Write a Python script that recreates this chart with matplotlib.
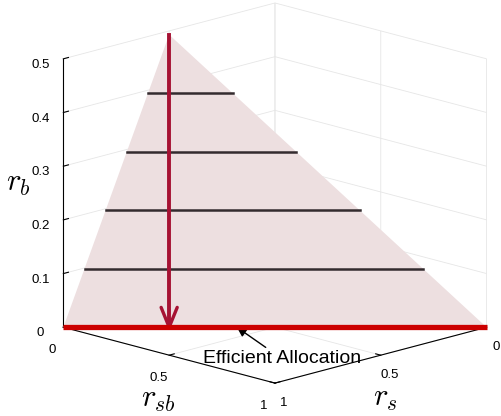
import matplotlib
matplotlib.use("Agg")
import matplotlib.pyplot as plt
from mpl_toolkits.mplot3d.art3d import Poly3DCollection
from mpl_toolkits.mplot3d import proj3d

plt.rcParams['font.family'] = ['Liberation Sans', 'DejaVu Sans']
plt.rcParams['mathtext.fontset'] = 'cm'

# corners of the shaded plane, as (r_sb, r_s, r_b)
corner_left = (0.0, 1.0, 0.0)
corner_right = (1.0, 0.0, 0.0)
apex = (0.25, 0.75, 0.545)
# heights of the four horizontal lines
levels = [0.109, 0.218, 0.327, 0.436]
# where the annotation arrow hits the base line (r_sb)
note_rsb = 0.41
note_text = "Efficient Allocation"

horiz_ticks = [0, 0.5, 1]
horiz_ticklabels = ["0", "0.5", "1"]
rb_ticks = [0, 0.1, 0.2, 0.3, 0.4, 0.5]
rb_ticklabels = ["0", "0.1", "0.2", "0.3", "0.4", "0.5"]


def P(p):
    # (r_sb, r_s, r_b) -> axes (x=r_s, y=r_sb, z=r_b)
    return (p[1], p[0], p[2])


def line3(a, b, **kw):
    pa, pb = P(a), P(b)
    ax.plot([pa[0], pb[0]], [pa[1], pb[1]], [pa[2], pb[2]], **kw)


fig = plt.figure(figsize=(5.02, 4.16), dpi=100)
ax = fig.add_axes([-0.067, -0.071, 1.203, 1.182], projection='3d', proj_type='ortho',
                  computed_zorder=False)
ax.view_init(elev=15.3, azim=45)
ax.set_box_aspect((1, 1, 0.93))

ax.set_xlim(0, 1)
ax.set_ylim(0, 1)
ax.set_zlim(0, 0.5)

# shaded triangle
tri = Poly3DCollection([[P(corner_left), P(corner_right), P(apex)]],
                       facecolor=(0.93, 0.875, 0.88), edgecolor='none', zorder=1)
ax.add_collection3d(tri)

# horizontal lines inside the triangle
for z in levels:
    f = z / apex[2]
    a = [corner_left[i] + (apex[i] - corner_left[i]) * f for i in range(3)]
    b = [corner_right[i] + (apex[i] - corner_right[i]) * f for i in range(3)]
    line3(a, b, color=(0.2, 0.17, 0.18), lw=1.8, zorder=2)

# base line (efficient allocations)
line3(corner_left, corner_right, color=(0.8, 0.0, 0.0), lw=3.8, zorder=4,
      solid_capstyle='butt')

# vertical arrow from apex down to base
arrow_col = (0.65, 0.07, 0.2)
foot = (apex[0], apex[1], 0.0)
line3(apex, foot, color=arrow_col, lw=2.8, zorder=3)
for d in (-0.019, 0.019):
    line3(foot, (apex[0] + d, apex[1] - d, 0.037), color=arrow_col, lw=2.4,
          zorder=3, solid_capstyle='round')

# axes styling
for axis in (ax.xaxis, ax.yaxis, ax.zaxis):
    axis.set_pane_color((1, 1, 1, 0))
    axis.pane.set_edgecolor((0.88, 0.88, 0.88))
    axis._axinfo['grid']['color'] = (0.9, 0.9, 0.9)
    axis._axinfo['grid']['linewidth'] = 0.6
    axis._axinfo['tick']['inward_factor'] = 0.0
    axis._axinfo['tick']['outward_factor'] = 0.3
    axis._axinfo['axisline']['color'] = 'black'
    axis._axinfo['axisline']['linewidth'] = 0.8
    axis.line.set_color('black')
    axis.line.set_linewidth(0.8)

ax.set_xticks(horiz_ticks)
ax.set_xticklabels(horiz_ticklabels)
ax.set_yticks(horiz_ticks)
ax.set_yticklabels(horiz_ticklabels)
ax.set_zticks(rb_ticks)
ax.set_zticklabels(rb_ticklabels)
ax.tick_params(labelsize=9.5, pad=0)
ax.yaxis.set_tick_params(pad=1.5)
ax.zaxis.set_tick_params(pad=2)

# axis labels placed like the original
fig.text(158 / 502, 1 - 399 / 416, r'$r_{sb}$', fontsize=22, ha='center', va='center')
fig.text(385 / 502, 1 - 398 / 416, r'$r_s$', fontsize=22, ha='center', va='center')
fig.text(18 / 502, 1 - 183 / 416, r'$r_b$', fontsize=22, ha='center', va='center')

# annotation arrow
x2, y2, _ = proj3d.proj_transform(1 - note_rsb, note_rsb, 0, ax.get_proj())
ax.annotate(note_text, xy=(x2, y2), xycoords='data',
            xytext=(0.404, 0.127), textcoords='figure fraction', fontsize=14,
            arrowprops=dict(arrowstyle='-|>', color='black', lw=1.0,
                            mutation_scale=14, shrinkA=0, shrinkB=0))

fig.savefig("out.png", dpi=100)
